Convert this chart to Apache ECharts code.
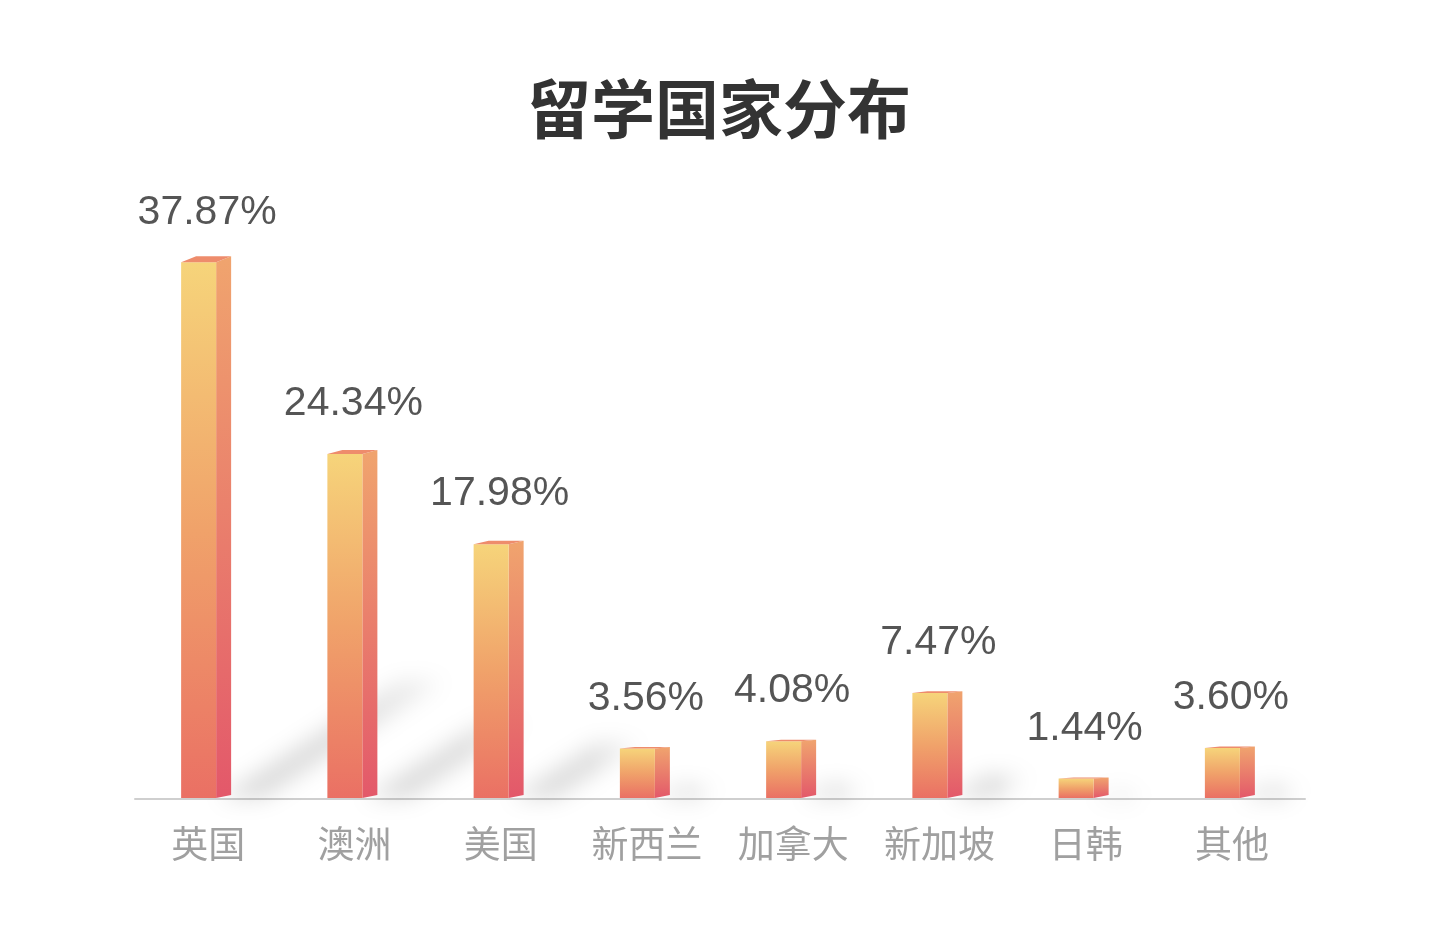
<!DOCTYPE html>
<html>
<head>
<meta charset="utf-8">
<script src="https://cdn.jsdelivr.net/npm/echarts@6/dist/echarts.min.js"></script>
<style>
html,body{margin:0;padding:0;background:#fff;}
#main{width:1438px;height:930px;}
</style>
</head>
<body>
<div id="main"></div>
<script>
const titleText = '留学国家分布';
const categories = ['英国', '澳洲', '美国', '新西兰', '加拿大', '新加坡', '日韩', '其他'];
const values = [37.87, 24.34, 17.98, 3.56, 4.08, 7.47, 1.44, 3.60];

const chart = echarts.init(document.getElementById('main'));
const OFF = 3000;

function geom(api) {
  const idx = api.value(0);
  const val = api.value(1);
  const top = api.coord([idx, val]);
  const base = api.coord([idx, 0]);
  const cx = top[0];
  const y0 = base[1] - 1;
  const h = y0 - top[1];
  return {
    cx: cx,
    y: top[1],
    y0: y0,
    h: h,
    L: cx - 27,
    FR: cx + 8,
    SR: cx + 23,
    D: 1 + h * 0.009,
    val: val
  };
}

function renderShadow(params, api) {
  const g = geom(api);
  const h = g.h;
  const dx = 0.34 * h, dy = 0.22 * h;
  const A = [g.SR - 12, g.y0];
  const B = [g.SR + 32, g.y0];
  const C = [B[0] + dx, B[1] - dy];
  const Dp = [A[0] + dx, A[1] - dy];
  const pts = [A, B, C, Dp].map(p => [p[0] - OFF, p[1]]);
  return {
    type: 'polygon',
    shape: { points: pts },
    style: {
      fill: new echarts.graphic.LinearGradient(0, 1, 1, 0, [
        { offset: 0, color: 'rgba(0,0,0,1)' },
        { offset: 0.6, color: 'rgba(0,0,0,0.9)' },
        { offset: 1, color: 'rgba(0,0,0,0.35)' }
      ]),
      shadowColor: 'rgba(0,0,0,0.15)',
      shadowBlur: 22,
      shadowOffsetX: OFF,
      shadowOffsetY: 0
    }
  };
}

function renderBar(params, api) {
  const g = geom(api);
  return {
    type: 'group',
    children: [
      {
        type: 'polygon',
        shape: { points: [[g.FR, g.y], [g.SR, g.y - g.D], [g.SR, g.y0 - 3], [g.FR, g.y0]] },
        style: {
          fill: new echarts.graphic.LinearGradient(0, 0, 0, 1, [
            { offset: 0, color: '#F0A46E' },
            { offset: 1, color: '#E3586A' }
          ])
        }
      },
      {
        type: 'rect',
        shape: { x: g.L, y: g.y, width: g.FR - g.L, height: g.y0 - g.y },
        style: {
          fill: new echarts.graphic.LinearGradient(0, 0, 0, 1, [
            { offset: 0, color: '#F6D47A' },
            { offset: 0.5, color: '#F0A26A' },
            { offset: 1, color: '#EA7064' }
          ])
        }
      },
      {
        type: 'polygon',
        shape: { points: [[g.L, g.y], [g.FR, g.y], [g.SR, g.y - g.D], [g.L + 15, g.y - g.D]] },
        style: { fill: '#EE8C6C' }
      },
      {
        type: 'text',
        x: g.cx - 1,
        y: g.y - 50,
        style: {
          text: g.val.toFixed(2) + '%',
          fill: '#555',
          fontSize: 41,
          fontFamily: 'Liberation Sans, Arial, sans-serif',
          align: 'center',
          verticalAlign: 'middle'
        }
      }
    ]
  };
}

const option = {
  backgroundColor: '#fff',
  animation: false,
  title: {
    text: titleText,
    left: 'center',
    top: 72,
    textStyle: {
      fontSize: 64,
      fontWeight: 'bold',
      color: '#333',
      fontFamily: 'Noto Sans CJK SC'
    }
  },
  grid: { left: 135, right: 133, top: 232, bottom: 131, containLabel: false },
  xAxis: {
    type: 'category',
    data: categories,
    axisLine: { show: true, lineStyle: { color: '#cfcfcf', width: 2 } },
    axisTick: { show: false },
    axisLabel: {
      margin: 26,
      fontSize: 37,
      color: '#a0a0a0',
      fontFamily: 'Noto Sans CJK SC'
    },
    splitLine: { show: false }
  },
  yAxis: {
    type: 'value',
    min: 0,
    max: 40,
    show: false,
    splitLine: { show: false }
  },
  series: [
    {
      type: 'custom',
      z: 1,
      clip: false,
      silent: true,
      renderItem: renderShadow,
      data: values.map((v, i) => [i, v])
    },
    {
      type: 'custom',
      z: 2,
      clip: false,
      renderItem: renderBar,
      data: values.map((v, i) => [i, v])
    }
  ]
};
chart.setOption(option);
</script>
</body>
</html>
